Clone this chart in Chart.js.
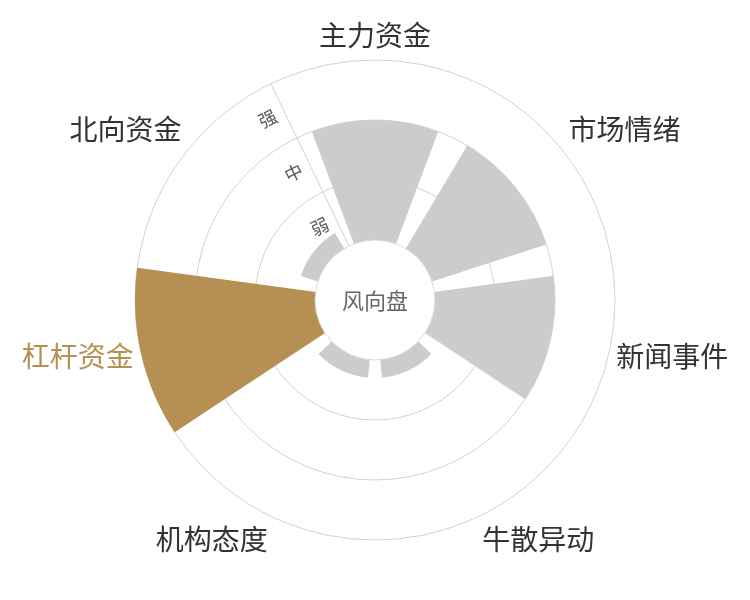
<!DOCTYPE html>
<html>
<head>
<meta charset="utf-8">
<script src="https://cdn.jsdelivr.net/npm/chart.js@4.4.1/dist/chart.umd.min.js"></script>
<style>
  html, body { margin: 0; padding: 0; background: #ffffff; }
  #wrap { width: 750px; height: 600px; position: relative; }
</style>
</head>
<body>
<div id="wrap"><canvas id="chart"></canvas></div>
<script>
// ---- data ----
const categories = ['主力资金', '市场情绪', '新闻事件', '牛散异动', '机构态度', '杠杆资金', '北向资金'];
const strength = [2, 2, 2, 0.3, 0.3, 3, 0.3];
const levelTicks = [0.5, 1.5, 2.5];
const levelLabels = ['弱', '中', '强'];
const centerTitle = '风向盘';
const highlighted = '杠杆资金';

// ---- style ----
const FONT = '"Noto Sans CJK SC", "Noto Sans", sans-serif';
const GRAY = '#cccccc';
const GOLD = '#b69052';
const RING = '#d0d0d0';
const LABEL = '#333333';
const BAR_FRACTION = 0.8;

Chart.defaults.font.family = FONT;

const n = categories.length;
const isHighlighted = i => categories[i] === highlighted;
const labelAngle = i => i * 2 * Math.PI / n; // angle from top, clockwise

const sectorPadding = {
  id: 'sectorPadding',
  afterDatasetsUpdate(chart) {
    chart.getDatasetMeta(0).data.forEach(arc => {
      const mid = (arc.startAngle + arc.endAngle) / 2;
      const half = (arc.endAngle - arc.startAngle) / 2 * BAR_FRACTION;
      arc.startAngle = mid - half;
      arc.endAngle = mid + half;
    });
  }
};

const centerHole = {
  id: 'centerHole',
  afterDatasetsDraw(chart) {
    const s = chart.scales.r;
    const r0 = s.getDistanceFromCenterForValue(0);
    const ctx = chart.ctx;
    ctx.save();
    ctx.beginPath();
    ctx.arc(s.xCenter, s.yCenter, r0, 0, 2 * Math.PI);
    ctx.fillStyle = '#ffffff';
    ctx.fill();
    ctx.lineWidth = 1;
    ctx.strokeStyle = '#d9d9d9';
    ctx.stroke();
    ctx.fillStyle = '#666666';
    ctx.font = '22px ' + FONT;
    ctx.textAlign = 'center';
    ctx.textBaseline = 'middle';
    ctx.fillText(centerTitle, s.xCenter, s.yCenter + 1);
    ctx.restore();
  }
};

new Chart(document.getElementById('chart'), {
  type: 'polarArea',
  data: {
    labels: categories,
    datasets: [{
      data: strength,
      backgroundColor: categories.map((c, i) => isHighlighted(i) ? GOLD : GRAY),
      borderWidth: 0
    }]
  },
  options: {
    responsive: true,
    maintainAspectRatio: false,
    animation: false,
    events: [],
    layout: { padding: { top: 6, bottom: 32, left: 0, right: 0 } },
    plugins: { legend: { display: false }, tooltip: { enabled: false } },
    scales: {
      r: {
        min: -1,
        max: 3,
        startAngle: -180 / n + 1e-6,
        grid: {
          circular: true,
          lineWidth: 1,
          color: ctx => (ctx.tick && Number.isInteger(ctx.tick.value) && ctx.tick.value >= 1) ? RING : 'rgba(0,0,0,0)'
        },
        angleLines: {
          display: true,
          lineWidth: 1,
          color: ctx => ctx.index === 0 ? RING : 'rgba(0,0,0,0)'
        },
        ticks: {
          stepSize: 0.5,
          showLabelBackdrop: false,
          backdropPadding: 0,
          color: '#5a5a5a',
          font: { size: 18, family: FONT },
          callback: v => {
            const k = levelTicks.indexOf(v);
            return k >= 0 ? levelLabels[k] + '\u3000\u3000' : '';
          }
        },
        pointLabels: {
          display: true,
          centerPointLabels: true,
          padding: -1.6,
          color: ctx => isHighlighted(ctx.index) ? GOLD : LABEL,
          font: ctx => ({
            size: 28,
            family: FONT,
            lineHeight: Math.abs(Math.sin(labelAngle(ctx.index))) > 0.9 ? '2px' : 1.2
          })
        }
      }
    }
  },
  plugins: [sectorPadding, centerHole]
});
</script>
</body>
</html>
